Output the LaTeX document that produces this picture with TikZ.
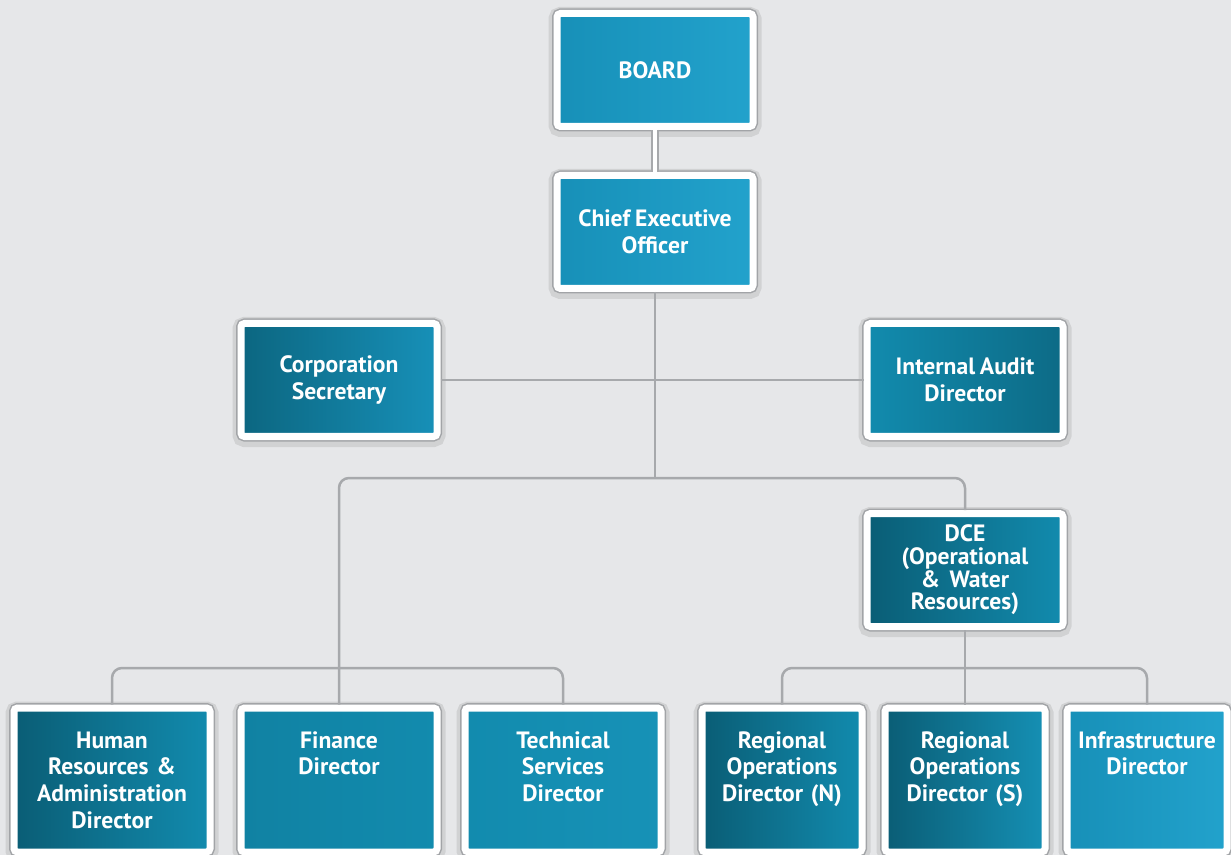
\documentclass[tikz,border=0pt]{standalone}
\usepackage{fontspec}
\setmainfont{PT Sans}[WordSpace=0.8]
\usepackage{tikz}
\usetikzlibrary{positioning, calc}
\definecolor{PaleGray}{HTML}{E6E7E9}
\definecolor{LinkGray}{HTML}{A7A9AC}
\definecolor{FrameGray}{HTML}{A2A4A7}
\definecolor{SkyTeal}{HTML}{22A2CC}
\definecolor{SkyShade}{HTML}{1790B8}
\definecolor{MidTeal}{HTML}{128BAE}
\definecolor{DeepTeal}{HTML}{0A5D75}

\tikzset{
  orgbox/.style={rectangle, draw=white, line width=3.5pt, rounded corners=1.75pt,
    preaction={draw=black, opacity=0.09, line width=8.5pt, transform canvas={yshift=-1pt}},
    preaction={draw=FrameGray, line width=5pt},
    left color=DeepTeal, right color=MidTeal,
    text=white, font=\fontsize{11.8}{13.4}\selectfont\bfseries, align=center,
    minimum width=98pt, minimum height=56.5pt, inner sep=2pt, outer sep=1.75pt},
  skybox/.style={orgbox, left color=SkyShade, right color=SkyTeal},
  lowbox/.style={orgbox, text width=#1, text height=16pt, text depth=48pt,
    inner ysep=4pt, minimum height=0pt},
  lowbox/.default=90pt,
  link/.style={draw=LinkGray, line width=1.25pt, rounded corners=5pt},
  pipe/.style={draw=LinkGray, line width=1pt, double=white, double distance=2pt}
}

\begin{document}
\begin{tikzpicture}[x=0.5pt, y=-0.5pt]
\useasboundingbox (0,0) rectangle (1231,855);
\clip (0,0) rectangle (1231,855);
\fill[PaleGray] (0,0) rectangle (1231,855);

% top of the chart
\node[skybox] (board) at (655,70) {BOARD};
\node[skybox] (ceo) at (655,232) {Chief Executive\\Officer};
\node[orgbox, left color=DeepTeal!80!MidTeal, right color=SkyShade] (sec) at (339,380) {Corporation\\Secretary};
\node[orgbox, left color=MidTeal, right color=DeepTeal!70!MidTeal] (audit) at (965,380) {Internal Audit\\Director};
\node[orgbox, font=\fontsize{11.8}{11.3}\selectfont\bfseries] (dce) at (965,570)
  {DCE\\(Operational\\\&~ Water\\Resources)};

% directors
\node[lowbox] (hr) at (112,780) {Human\\Resources \&\\Administration\\Director};
\node[lowbox, left color=MidTeal!80!DeepTeal, right color=MidTeal] (fin) at (339,780) {Finance\\Director};
\node[lowbox, left color=MidTeal, right color=MidTeal!70!SkyTeal] (tech) at (563,780) {Technical\\Services\\Director};
\node[lowbox=74pt, minimum width=80pt] (rn) at (782,780) {Regional\\Operations\\Director (N)};
\node[lowbox=74pt, minimum width=80pt, left color=DeepTeal, right color=MidTeal!80!SkyTeal] (rs) at (965,780) {Regional\\Operations\\Director (S)};
\node[lowbox=76pt, minimum width=80pt, left color=SkyShade, right color=SkyTeal] (inf) at (1147,780) {Infrastructure\\Director};

\coordinate (split) at (655,478);
\coordinate (lowbar) at (0,668);

\draw[pipe] (board) -- (ceo);
\draw[link] (ceo.south) -- (split);
\draw[link] (sec) -- (audit);
\draw[link] (fin.north) -- (fin.north |- split) -- (dce.north |- split) -- (dce.north);
\draw[link] (hr.north) -- (hr.north |- lowbar) -- (tech.north |- lowbar) -- (tech.north);
\draw[link] (dce.south) -- (dce.south |- lowbar);
\draw[link] (rn.north) -- (rn.north |- lowbar) -- (inf.north |- lowbar) -- (inf.north);
\draw[link] (rs.north) -- (rs.north |- lowbar);
\end{tikzpicture}
\end{document}
